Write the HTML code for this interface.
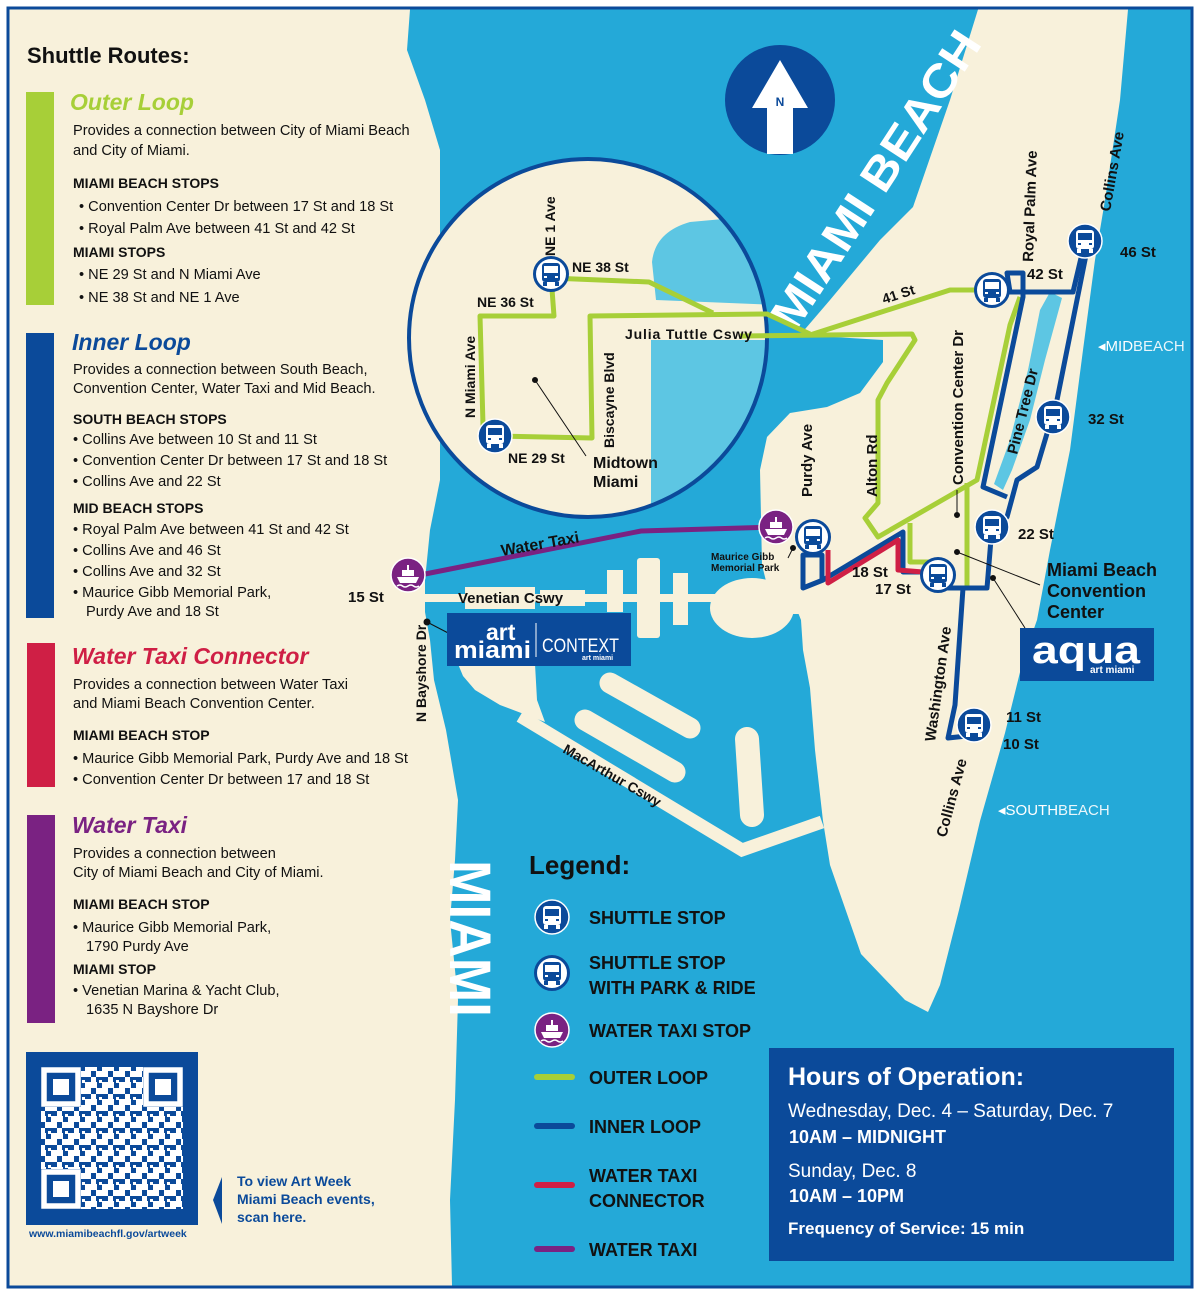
<!DOCTYPE html>
<html><head><meta charset="utf-8"><style>
html,body{margin:0;padding:0;background:#fff}
svg{display:block}
text{font-family:"Liberation Sans",sans-serif}
.b{font-weight:bold}
.d{font-size:14.6px;fill:#111}
.h{font-size:14px;font-weight:bold;fill:#111}
.lb{font-size:14px;font-weight:bold;fill:#111}
.lg{font-size:18px;font-weight:bold;fill:#111}
</style></head><body>
<svg width="1200" height="1295" viewBox="0 0 1200 1295" xmlns="http://www.w3.org/2000/svg">
<defs>
<clipPath id="cc"><circle cx="588" cy="338" r="179"/></clipPath>
<g id="bus"><rect x="-9" y="-11" width="18" height="19" rx="3"/><rect x="-8" y="8" width="4" height="4"/><rect x="4" y="8" width="4" height="4"/></g>
<g id="stopS"><circle r="17" fill="#0b4a9a" stroke="#fff" stroke-width="1.5"/><use href="#bus" fill="#fff"/><rect x="-7" y="-8" width="14" height="7" fill="#0b4a9a"/><rect x="-7" y="2" width="3" height="2" fill="#0b4a9a"/><rect x="4" y="2" width="3" height="2" fill="#0b4a9a"/></g>
<g id="stopP"><circle r="16.5" fill="#fff" stroke="#0b4a9a" stroke-width="3"/><use href="#bus" fill="#0b4a9a"/><rect x="-7" y="-8" width="14" height="7" fill="#fff"/><rect x="-7" y="2" width="3" height="2" fill="#fff"/><rect x="4" y="2" width="3" height="2" fill="#fff"/></g>
<g id="stopW"><circle r="17" fill="#7a2282" stroke="#fff" stroke-width="1.5"/><path d="M-11,2 L11,2 L8,8 L-8,8Z" fill="#fff"/><rect x="-6" y="-5" width="12" height="6" fill="#fff"/><rect x="-1" y="-10" width="2" height="5" fill="#fff"/><path d="M-11,11 q3,-2 5.5,0 t5.5,0 t5.5,0 t5.5,0" stroke="#fff" stroke-width="1.5" fill="none"/></g>
<pattern id="qr" width="17" height="17" patternUnits="userSpaceOnUse"><rect width="17" height="17" fill="#0b4a9a"/><rect x="0" y="0" width="6" height="6" fill="#fff"/><rect x="11" y="0" width="6" height="6" fill="#fff"/><rect x="6" y="6" width="5" height="5" fill="#fff"/><rect x="0" y="11" width="12" height="6" fill="#fff"/><rect x="14" y="9" width="3" height="3" fill="#fff"/></pattern>
</defs>
<rect width="1200" height="1295" fill="#fff"/>
<rect x="8" y="8" width="1184" height="1279" fill="#24a9d8" stroke="#0b4a9a" stroke-width="3"/>
<!-- mainland -->
<path d="M9.5,9.5 L410,9.5 L407,50 L425,100 L440,150 L440,480 L430,530 L425,580 L425,612 L430,640 L434,680 L446,730 L458,800 L455,860 L450,920 L458,1000 L455,1100 L450,1200 L452,1285.5 L9.5,1285.5Z" fill="#f8f1db"/>
<!-- Miami Beach -->
<path d="M978,9.5 L1128,9.5 L1120,100 L1105,200 L1095,260 L1083,350 L1070,450 L1050,550 L1037,620 L1023,660 L1005,733 L980,821 L959,910 L940,985 L928,1012 L905,1000 L861,954 L830,865 L823,821 L815,750 L810,688 L803,650 L801,620 L795,605 L770,597 L762,565 L760,470 L767,437 L790,413 L827,407 L860,393 L883,362 L883,340 L800,335 L830,300 L880,240 L913,207 L950,100Z" fill="#f8f1db"/>
<path d="M1050,292 L1062,298 L1045,360 L1030,420 L1012,470 L1003,490 L994,484 L1010,440 L1028,370 L1040,310Z" fill="#5dc6e3"/>
<!-- venetian -->
<line x1="420" y1="598" x2="790" y2="598" stroke="#f8f1db" stroke-width="8"/>
<rect x="465" y="587" width="70" height="22" fill="#f8f1db"/><rect x="540" y="590" width="45" height="16" fill="#f8f1db"/>
<rect x="607" y="570" width="16" height="42" fill="#f8f1db"/><rect x="637" y="558" width="23" height="80" rx="3" fill="#f8f1db"/><rect x="673" y="573" width="15" height="52" fill="#f8f1db"/>
<ellipse cx="752" cy="608" rx="42" ry="30" fill="#f8f1db"/>
<rect x="770" y="592" width="33" height="22" fill="#f8f1db"/>
<!-- watson / macarthur -->
<path d="M458,664 L535,664 L537,700 L545,722 L500,705 L475,690 L463,676Z" fill="#f8f1db"/>
<polyline points="520,716 742,850 822,822" fill="none" stroke="#f8f1db" stroke-width="13"/>
<line x1="610" y1="683" x2="690" y2="728" stroke="#f8f1db" stroke-width="21" stroke-linecap="round"/>
<line x1="585" y1="720" x2="675" y2="772" stroke="#f8f1db" stroke-width="21" stroke-linecap="round"/>
<line x1="747" y1="739" x2="752" y2="815" stroke="#f8f1db" stroke-width="24" stroke-linecap="round"/>
<!-- circle inset -->
<circle cx="588" cy="338" r="179" fill="#f8f1db"/>
<g clip-path="url(#cc)"><path d="M651,340 L651,520 L780,520 L780,340Z M656,300 L652,262 Q655,232 690,222 L780,214 L780,305 Z" fill="#5dc6e3"/></g>
<circle cx="588" cy="338" r="179" fill="none" stroke="#0b4a9a" stroke-width="4"/>
<!-- compass -->
<circle cx="780" cy="100" r="55" fill="#0b4a9a"/>
<path d="M780,60 L808,108 L793,108 L793,154 L767,154 L767,108 L752,108Z" fill="#fff"/>
<text x="780" y="106" text-anchor="middle" class="b" font-size="12" fill="#0b4a9a">N</text>
<text transform="translate(795,333) rotate(-57)" class="b" font-size="46" fill="#fff" textLength="345" lengthAdjust="spacingAndGlyphs">MIAMI BEACH</text>
<text transform="translate(450,860) rotate(90)" class="b" font-size="58" fill="#fff" textLength="157" lengthAdjust="spacingAndGlyphs">MIAMI</text>
<!-- routes -->
<g fill="none" stroke="#a7cf38" stroke-width="5" stroke-linejoin="round">
<path d="M551,276 L554,316 L480,316 L483,425 L495,436 L592,438 L590,316 L767,314 L810,334"/>
<path d="M551,278 L649,282 L713,313"/>
<path d="M740,336 L912,334 L915,340 L887,383 L878,400 L878,503 L865,518 L878,537 L977,480 L1010,325 L1020,297"/>
<path d="M810,335 L950,290 L992,290"/>
<path d="M967,483 L967,588"/>
<path d="M910,523 L910,562 L935,562"/>
</g>
<path d="M410,577 L641,531 L777,527" fill="none" stroke="#7a2282" stroke-width="5"/>
<g fill="none" stroke="#0b4a9a" stroke-width="5" stroke-linejoin="round">
<path d="M1085,241 L1073,292 L1010,292 L1007,273 L1023,273 L1023,297 L983,487 L1007,497"/>
<path d="M1087,250 L1057,400 L1037,467 L1017,480 L1007,517 L992,527 L987,588 L945,588"/>
<path d="M963,588 L955,705 L948,738 L976,735"/>
<path d="M923,572 L903,572 L903,532 L823,580 L803,588 L803,555 L822,555 L822,582"/>
</g>
<path d="M828,550 L828,583 L898,540 L898,570 L923,572" fill="none" stroke="#cf1f45" stroke-width="5" stroke-linejoin="round"/>
<!-- stops -->
<use href="#stopP" x="551" y="274"/><use href="#stopS" x="495" y="436"/>
<use href="#stopP" x="992" y="290"/><use href="#stopS" x="1085" y="241"/>
<use href="#stopS" x="1053" y="417"/><use href="#stopS" x="992" y="527"/>
<use href="#stopP" x="938" y="575"/><use href="#stopP" x="813" y="537"/>
<use href="#stopS" x="974" y="725"/>
<use href="#stopW" x="408" y="575"/><use href="#stopW" x="776" y="527"/>
<!-- pointer lines -->
<g stroke="#111" stroke-width="1" fill="#111">
<line x1="535" y1="380" x2="586" y2="456"/><circle cx="535" cy="380" r="2.5"/>
<line x1="957" y1="515" x2="957" y2="490"/><circle cx="957" cy="515" r="2.5"/>
<line x1="957" y1="552" x2="1040" y2="585"/><circle cx="957" cy="552" r="2.5"/>
<line x1="993" y1="578" x2="1025" y2="628"/><circle cx="993" cy="578" r="2.5"/>
<line x1="793" y1="548" x2="788" y2="558"/><circle cx="793" cy="548" r="2.5"/>
<line x1="427" y1="622" x2="452" y2="635"/><circle cx="427" cy="622" r="3"/>
</g>
<!-- map labels -->
<g class="lb">
<text transform="translate(555,256) rotate(-90)">NE 1 Ave</text>
<text x="572" y="272">NE 38 St</text>
<text x="477" y="307">NE 36 St</text>
<text transform="translate(475,418) rotate(-90)">N Miami Ave</text>
<text x="508" y="463">NE 29 St</text>
<text x="625" y="339" textLength="127">Julia Tuttle Cswy</text>
<text transform="translate(614,448) rotate(-90)">Biscayne Blvd</text>
<text transform="translate(884,304) rotate(-18)">41 St</text>
<text x="1027" y="279" font-size="15">42 St</text>
<text x="1120" y="257" font-size="15">46 St</text>
<text x="1088" y="424" font-size="15">32 St</text>
<text x="1018" y="539" font-size="15">22 St</text>
<text x="852" y="577" font-size="15">18 St</text>
<text x="875" y="594" font-size="15">17 St</text>
<text x="1006" y="722" font-size="15">11 St</text>
<text x="1003" y="749" font-size="15">10 St</text>
<text x="348" y="602" font-size="15">15 St</text>
<text transform="translate(1033,262) rotate(-88)" font-size="15">Royal Palm Ave</text>
<text transform="translate(1110,212) rotate(-80)" font-size="15">Collins Ave</text>
<text transform="translate(963,485) rotate(-90)" font-size="15">Convention Center Dr</text>
<text transform="translate(1017,455) rotate(-76)" font-size="15">Pine Tree Dr</text>
<text transform="translate(812,497) rotate(-90)" font-size="15">Purdy Ave</text>
<text transform="translate(877,497) rotate(-90)" font-size="15">Alton Rd</text>
<text transform="translate(935,742) rotate(-82)" font-size="15">Washington Ave</text>
<text transform="translate(946,838) rotate(-75)" font-size="15">Collins Ave</text>
<text transform="translate(502,556) rotate(-10)" font-size="16">Water Taxi</text>
<text x="458" y="603" font-size="15">Venetian Cswy</text>
<text transform="translate(426,722) rotate(-90)">N Bayshore Dr</text>
<text transform="translate(562,752) rotate(30)">MacArthur Cswy</text>
<text x="711" y="560" font-size="10">Maurice Gibb</text>
<text x="711" y="571" font-size="10">Memorial Park</text>
<text x="593" y="468" font-size="16">Midtown</text>
<text x="593" y="487" font-size="16">Miami</text>
<text x="1047" y="576" font-size="18">Miami Beach</text>
<text x="1047" y="597" font-size="18">Convention</text>
<text x="1047" y="618" font-size="18">Center</text>
</g>
<text x="1098" y="351" font-size="15" fill="#fff">◂MID<tspan font-weight="normal" opacity="0.9">BEACH</tspan></text>
<text x="998" y="815" font-size="15" fill="#fff">◂SOUTH<tspan opacity="0.9">BEACH</tspan></text>
<!-- logos -->
<rect x="447" y="613" width="184" height="53" fill="#0b4a9a"/>
<text x="486" y="640" class="b" font-size="23" fill="#fff">art</text>
<text x="454" y="658" class="b" font-size="24" fill="#fff" textLength="77" lengthAdjust="spacingAndGlyphs">miami</text>
<line x1="536" y1="623" x2="536" y2="657" stroke="#fff" stroke-width="1"/>
<text x="542" y="652" font-size="19" fill="#fff" textLength="77" lengthAdjust="spacingAndGlyphs">CONTEXT</text>
<text x="582" y="660" class="b" font-size="7" fill="#fff">art miami</text>
<rect x="1020" y="628" width="134" height="53" fill="#0b4a9a"/>
<text x="1032" y="663" class="b" font-size="38" fill="#fff" textLength="108" lengthAdjust="spacingAndGlyphs">aqua</text>
<text x="1090" y="673" class="b" font-size="10" fill="#fff">art miami</text>
<!-- left panel -->
<text x="27" y="63" class="b" font-size="22" fill="#111">Shuttle Routes:</text>
<rect x="26" y="92" width="28" height="213" fill="#a7cf38"/>
<rect x="26" y="333" width="28" height="285" fill="#0b4a9a"/>
<rect x="27" y="643" width="28" height="144" fill="#cf1f45"/>
<rect x="27" y="815" width="28" height="208" fill="#7a2282"/>
<text x="70" y="110" class="b" font-size="23" font-style="italic" fill="#a7cf38">Outer Loop</text>
<text x="73" y="135" class="d">Provides a connection between City of Miami Beach</text>
<text x="73" y="155" class="d">and City of Miami.</text>
<text x="73" y="188" class="h">MIAMI BEACH STOPS</text>
<text x="79" y="211" class="d">• Convention Center Dr between 17 St and 18 St</text>
<text x="79" y="233" class="d">• Royal Palm Ave between 41 St and 42 St</text>
<text x="73" y="257" class="h">MIAMI STOPS</text>
<text x="79" y="279" class="d">• NE 29 St and N Miami Ave</text>
<text x="79" y="302" class="d">• NE 38 St and NE 1 Ave</text>
<text x="72" y="350" class="b" font-size="23" font-style="italic" fill="#0b4a9a">Inner Loop</text>
<text x="73" y="374" class="d">Provides a connection between South Beach,</text>
<text x="73" y="393" class="d">Convention Center, Water Taxi and Mid Beach.</text>
<text x="73" y="424" class="h">SOUTH BEACH STOPS</text>
<text x="73" y="444" class="d">• Collins Ave between 10 St and 11 St</text>
<text x="73" y="465" class="d">• Convention Center Dr between 17 St and 18 St</text>
<text x="73" y="486" class="d">• Collins Ave and 22 St</text>
<text x="73" y="513" class="h">MID BEACH STOPS</text>
<text x="73" y="534" class="d">• Royal Palm Ave between 41 St and 42 St</text>
<text x="73" y="555" class="d">• Collins Ave and 46 St</text>
<text x="73" y="576" class="d">• Collins Ave and 32 St</text>
<text x="73" y="597" class="d">• Maurice Gibb Memorial Park,</text>
<text x="86" y="616" class="d">Purdy Ave and 18 St</text>
<text x="72" y="664" class="b" font-size="23" font-style="italic" fill="#cf1f45">Water Taxi Connector</text>
<text x="73" y="689" class="d">Provides a connection between Water Taxi</text>
<text x="73" y="708" class="d">and Miami Beach Convention Center.</text>
<text x="73" y="740" class="h">MIAMI BEACH STOP</text>
<text x="73" y="763" class="d">• Maurice Gibb Memorial Park, Purdy Ave and 18 St</text>
<text x="73" y="784" class="d">• Convention Center Dr between 17 and 18 St</text>
<text x="72" y="833" class="b" font-size="23" font-style="italic" fill="#7a2282">Water Taxi</text>
<text x="73" y="858" class="d">Provides a connection between</text>
<text x="73" y="877" class="d">City of Miami Beach and City of Miami.</text>
<text x="73" y="909" class="h">MIAMI BEACH STOP</text>
<text x="73" y="932" class="d">• Maurice Gibb Memorial Park,</text>
<text x="86" y="951" class="d">1790 Purdy Ave</text>
<text x="73" y="974" class="h">MIAMI STOP</text>
<text x="73" y="995" class="d">• Venetian Marina &amp; Yacht Club,</text>
<text x="86" y="1014" class="d">1635 N Bayshore Dr</text>
<!-- QR -->
<rect x="26" y="1052" width="172" height="173" fill="#0b4a9a"/>
<rect x="41" y="1067" width="142" height="142" fill="url(#qr)"/>
<g fill="#0b4a9a"><rect x="41" y="1067" width="40" height="40"/><rect x="143" y="1067" width="40" height="40"/><rect x="41" y="1169" width="40" height="40"/></g>
<g fill="none" stroke="#fff" stroke-width="5.5"><rect x="44" y="1070" width="34" height="34"/><rect x="146" y="1070" width="34" height="34"/><rect x="44" y="1172" width="34" height="34"/></g>
<g fill="#fff"><rect x="53" y="1079" width="16" height="16"/><rect x="155" y="1079" width="16" height="16"/><rect x="53" y="1181" width="16" height="16"/></g>
<text x="29" y="1237" class="b" font-size="10.5" fill="#0b4a9a">www.miamibeachfl.gov/artweek</text>
<path d="M222,1177 L222,1224 L213,1200Z" fill="#0b4a9a"/>
<text x="237" y="1186" class="b" font-size="14" fill="#0b4a9a">To view Art Week</text>
<text x="237" y="1204" class="b" font-size="14" fill="#0b4a9a">Miami Beach events,</text>
<text x="237" y="1222" class="b" font-size="14" fill="#0b4a9a">scan here.</text>
<!-- legend -->
<text x="529" y="874" class="b" font-size="26" fill="#111">Legend:</text>
<use href="#stopS" x="552" y="917"/><use href="#stopP" x="552" y="973"/><use href="#stopW" x="552" y="1030"/>
<text x="589" y="924" class="lg">SHUTTLE STOP</text>
<text x="589" y="969" class="lg">SHUTTLE STOP</text>
<text x="589" y="994" class="lg">WITH PARK &amp; RIDE</text>
<text x="589" y="1037" class="lg">WATER TAXI STOP</text>
<g stroke-width="6" stroke-linecap="round"><line x1="537" y1="1077" x2="572" y2="1077" stroke="#a7cf38"/><line x1="537" y1="1126" x2="572" y2="1126" stroke="#0b4a9a"/><line x1="537" y1="1185" x2="572" y2="1185" stroke="#cf1f45"/><line x1="537" y1="1249" x2="572" y2="1249" stroke="#7a2282"/></g>
<text x="589" y="1084" class="lg">OUTER LOOP</text>
<text x="589" y="1133" class="lg">INNER LOOP</text>
<text x="589" y="1182" class="lg">WATER TAXI</text>
<text x="589" y="1207" class="lg">CONNECTOR</text>
<text x="589" y="1256" class="lg">WATER TAXI</text>
<!-- hours -->
<rect x="769" y="1048" width="405" height="213" fill="#0b4a9a"/>
<text x="788" y="1085" class="b" font-size="25" fill="#fff">Hours of Operation:</text>
<text x="788" y="1117" font-size="19" fill="#fff">Wednesday, Dec. 4 – Saturday, Dec. 7</text>
<text x="789" y="1143" class="b" font-size="18" fill="#fff">10AM – MIDNIGHT</text>
<text x="788" y="1177" font-size="19" fill="#fff">Sunday, Dec. 8</text>
<text x="789" y="1202" class="b" font-size="18" fill="#fff">10AM – 10PM</text>
<text x="788" y="1234" class="b" font-size="17" fill="#fff">Frequency of Service: 15 min</text>
</svg>
</body></html>
